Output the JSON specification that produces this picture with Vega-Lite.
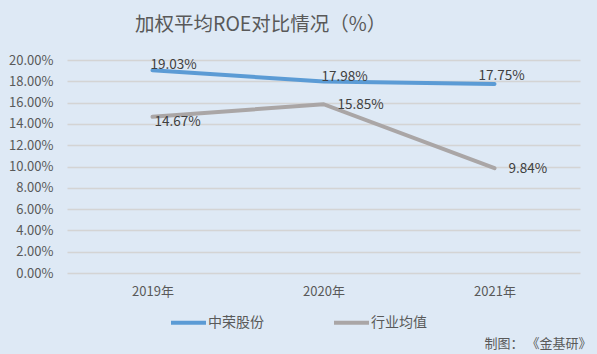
{
  "$schema": "https://vega.github.io/schema/vega-lite/v6.json",
  "width": 513,
  "height": 213,
  "autosize": {"type": "none"},
  "padding": {"left": 67, "top": 60, "right": 17, "bottom": 81},
  "background": "#dee9f5",
  "title": {
    "text": "加权平均ROE对比情况（%）",
    "font": "Noto Sans CJK SC",
    "fontSize": 19.5,
    "fontWeight": "normal",
    "color": "#595959",
    "anchor": "start",
    "frame": "group",
    "dx": 68,
    "offset": 19
  },
  "config": {
    "view": {"stroke": null},
    "font": "Noto Sans CJK SC"
  },
  "data": {
    "values": [
      {"year": "2019年", "series": "中荣股份", "value": 0.1903},
      {"year": "2020年", "series": "中荣股份", "value": 0.1798},
      {"year": "2021年", "series": "中荣股份", "value": 0.1775},
      {"year": "2019年", "series": "行业均值", "value": 0.1467},
      {"year": "2020年", "series": "行业均值", "value": 0.1585},
      {"year": "2021年", "series": "行业均值", "value": 0.0984}
    ]
  },
  "encoding": {
    "x": {
      "field": "year",
      "type": "ordinal",
      "scale": {"type": "point", "padding": 0.5},
      "axis": {
        "title": "制图： 《金基研》",
        "titleFont": "Noto Sans CJK SC",
        "titleFontSize": 13,
        "titleFontWeight": "normal",
        "titleColor": "#595959",
        "titleAnchor": "end",
        "titleAlign": "right",
        "titleBaseline": "middle",
        "titleX": 524,
        "titleY": 70,
        "labelAngle": 0,
        "labelFontSize": 13,
        "labelColor": "#595959",
        "labelPadding": 12,
        "ticks": false,
        "domain": false,
        "grid": false
      }
    },
    "y": {
      "field": "value",
      "type": "quantitative",
      "scale": {"domain": [0, 0.2], "nice": false},
      "axis": {
        "title": null,
        "format": ".2%",
        "values": [0, 0.02, 0.04, 0.06, 0.08, 0.1, 0.12, 0.14, 0.16, 0.18, 0.2],
        "labelFontSize": 13,
        "labelColor": "#595959",
        "labelPadding": 14,
        "ticks": false,
        "domain": false,
        "gridColor": "#d4d4d4",
        "gridWidth": 1.3
      }
    }
  },
  "layer": [
    {
      "mark": {"type": "line", "strokeWidth": 4, "strokeCap": "round"},
      "encoding": {
        "color": {
          "field": "series",
          "type": "nominal",
          "scale": {"domain": ["中荣股份", "行业均值"], "range": ["#5b9bd5", "#aaa6a6"]},
          "legend": {
            "title": null,
            "orient": "none",
            "direction": "horizontal",
            "legendX": 102,
            "legendY": 243,
            "symbolType": "stroke",
            "symbolSize": 1225,
            "symbolStrokeWidth": 4,
            "labelFontSize": 14,
            "labelColor": "#595959",
            "labelOffset": 0,
            "columnPadding": 62
          }
        }
      }
    },
    {
      "transform": [{"filter": "datum.series == '中荣股份' && datum.year != '2021年'"}],
      "mark": {"type": "text", "align": "left", "baseline": "middle", "dx": -2, "dy": -5, "fontSize": 13.5, "color": "#404040"},
      "encoding": {"text": {"field": "value", "format": ".2%"}}
    },
    {
      "transform": [{"filter": "datum.series == '中荣股份' && datum.year == '2021年'"}],
      "mark": {"type": "text", "align": "left", "baseline": "middle", "dx": -16, "dy": -8, "fontSize": 13.5, "color": "#404040"},
      "encoding": {"text": {"field": "value", "format": ".2%"}}
    },
    {
      "transform": [{"filter": "datum.series == '行业均值' && datum.year == '2019年'"}],
      "mark": {"type": "text", "align": "left", "baseline": "middle", "dx": 2, "dy": 5, "fontSize": 13.5, "color": "#404040"},
      "encoding": {"text": {"field": "value", "format": ".2%"}}
    },
    {
      "transform": [{"filter": "datum.series == '行业均值' && datum.year != '2019年'"}],
      "mark": {"type": "text", "align": "left", "baseline": "middle", "dx": 14, "dy": 1, "fontSize": 13.5, "color": "#404040"},
      "encoding": {"text": {"field": "value", "format": ".2%"}}
    }
  ]
}
